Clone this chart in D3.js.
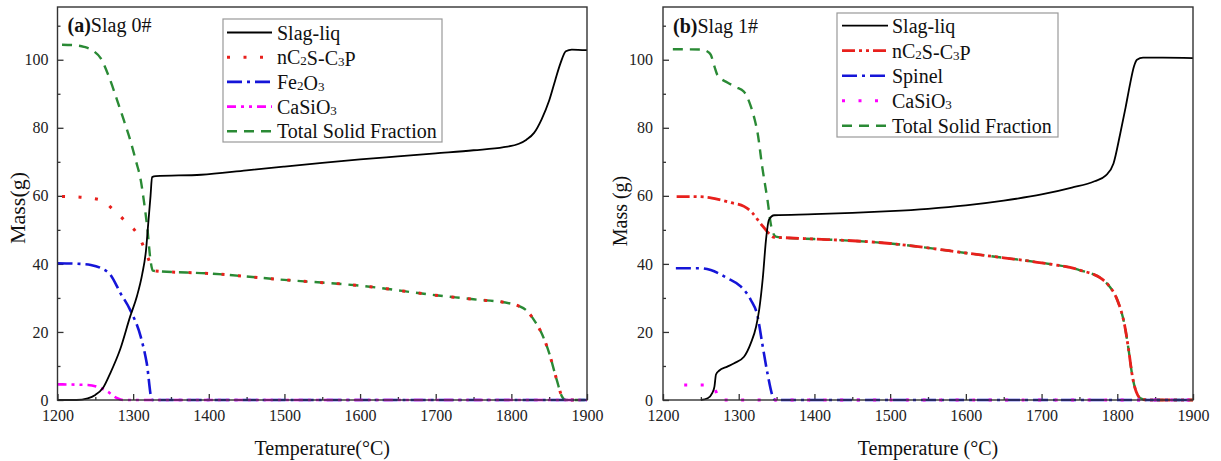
<!DOCTYPE html>
<html>
<head>
<meta charset="utf-8">
<script src="https://cdnjs.cloudflare.com/ajax/libs/d3/7.8.5/d3.min.js"></script>
<style>
  html, body { margin: 0; padding: 0; background: #fff; }
  svg, svg text { font-family: "Liberation Serif", "Times New Roman", serif; }
</style>
</head>
<body>
<div id="chart"></div>
<script>
// ---- datos: [temperatura °C, masa g] ----

// (a) Slag 0#
const liq0 = [[1200,0],[1225,0],[1240,0.5],[1250,1.5],[1260,3.5],[1270,8],[1283,15],[1296,24.5],[1305,30.5],[1312,37],[1317,44],[1320,52],[1323,60],[1325,65.5],[1330,65.8],[1390,66.2],[1450,67.5],[1500,68.6],[1550,69.7],[1600,70.7],[1650,71.6],[1700,72.5],[1750,73.4],[1790,74.3],[1810,75.3],[1820,76.5],[1830,78.5],[1840,82.5],[1850,88],[1858,94],[1865,99],[1872,102.5],[1880,103],[1900,102.8]];
const c2s0 = [[1206,59.8],[1230,59.6],[1257,58.8],[1274,55.9],[1292,52],[1305,49],[1314,45],[1321,41],[1326,38],[1330,37.9],[1400,37.2],[1500,35.3],[1600,33.6],[1700,30.8],[1750,29.6],[1800,28.3],[1810,27.6],[1820,26.3],[1830,23.5],[1840,19.6],[1850,13.8],[1860,5.9],[1867,1],[1872,0],[1900,0]];
const fe2o3_0 = [[1200,40.2],[1230,40],[1244,39.7],[1257,38.8],[1270,36.8],[1283,31.5],[1296,26.5],[1310,18.6],[1318,10.8],[1325,0],[1900,0]];
const casio0 = [[1200,4.6],[1240,4.4],[1257,3.5],[1266,2.5],[1279,0.5],[1287,0],[1900,0]];
const solid0 = [[1206,104.4],[1220,104.3],[1235,103.8],[1248,102.5],[1257,100.5],[1268,95],[1279,88],[1288,82],[1296,76.5],[1304,70],[1310,64.7],[1314,58.8],[1319,50],[1323,41],[1326,38],[1330,37.9],[1400,37.2],[1500,35.3],[1600,33.6],[1700,30.8],[1750,29.6],[1800,28.3],[1810,27.6],[1820,26.3],[1830,23.5],[1840,19.6],[1850,13.8],[1860,5.9],[1867,1],[1872,0],[1900,0]];

// (b) Slag 1#
const liq1 = [[1250,0],[1259,0.5],[1265,2],[1268,4],[1270,7.5],[1274,8.6],[1285,9.8],[1294,10.8],[1307,12.7],[1316,16.7],[1323,21.6],[1327,26.5],[1332,36.3],[1336,47],[1340,53],[1347,54.3],[1400,54.6],[1450,55],[1500,55.5],[1550,56.2],[1600,57.2],[1650,58.6],[1700,60.4],[1740,62.4],[1770,64.3],[1785,66],[1795,69.5],[1804,78.4],[1811,86],[1817,93],[1822,98],[1826,100],[1834,100.6],[1860,100.6],[1900,100.5]];
const c2s1 = [[1218,59.8],[1240,59.8],[1258,59.6],[1276,58.8],[1290,58],[1307,56.9],[1318,55],[1325,53],[1332,51],[1338,49.4],[1347,47.8],[1360,47.7],[1400,47.3],[1450,46.8],[1500,46],[1550,44.7],[1600,43.2],[1650,41.8],[1700,40.3],[1750,38.2],[1780,35.5],[1790,33.3],[1800,29.4],[1810,21.6],[1815,14.7],[1820,6.9],[1825,2.4],[1830,0.6],[1840,0],[1900,0]];
const spinel1 = [[1217,38.7],[1250,38.7],[1263,38.2],[1285,35.8],[1303,33.3],[1316,29.4],[1325,24.5],[1331,16.7],[1338,7.8],[1345,1],[1348,0],[1900,0]];
const casio1 = [[1228,4.4],[1255,4.4],[1265,3.8],[1270,2.5],[1273,0],[1900,0]];
const solid1 = [[1213,103.1],[1250,103],[1258,102.5],[1263,101.5],[1268,98],[1272,95.5],[1285,93.3],[1296,92],[1307,90.6],[1316,86.3],[1321,82.5],[1325,78.4],[1331,68.6],[1338,58.8],[1343,51],[1349,48],[1360,47.7],[1400,47.3],[1450,46.8],[1500,46],[1550,44.7],[1600,43.2],[1650,41.8],[1700,40.3],[1750,38.2],[1780,35.5],[1790,33.3],[1800,29.4],[1810,21.6],[1815,14.7],[1820,6.9],[1825,2.4],[1830,0.6],[1840,0],[1900,0]];

// ejes
const xTicks = [1200, 1300, 1400, 1500, 1600, 1700, 1800, 1900];
const xMinor = [1250, 1350, 1450, 1550, 1650, 1750, 1850];
const yTicks = [0, 20, 40, 60, 80, 100];
const yMinor = [10, 30, 50, 70, 90, 110];

// Dimensiones
const width = 1221;
const height = 461;
const serif = "'Liberation Serif', 'Times New Roman', serif";

const svg = d3.select("#chart").append("svg")
    .attr("width", width)
    .attr("height", height);

// colores
const cBlack = "#000", cRed = "#e8201c", cBlue = "#1515d8", cMag = "#ff00ff", cGreen = "#2a8a35";

function drawPanel(p) {
    const x = d3.scaleLinear().domain([1200, 1900]).range([p.left, p.right]);
    const y = d3.scaleLinear().domain([0, 115.5]).range([400, 7]);
    const g = svg.append("g");

    // ticks menores y mayores, hacia dentro
    g.append("g").attr("transform", "translate(0,400)")
        .call(d3.axisBottom(x).tickValues(xTicks).tickSize(-6).tickPadding(10).tickFormat(d3.format("d")))
        .call(a => a.select(".domain").remove());
    g.append("g").attr("transform", "translate(0,400)")
        .call(d3.axisBottom(x).tickValues(xMinor).tickSize(-3).tickFormat(""))
        .call(a => a.select(".domain").remove());
    g.append("g").attr("transform", `translate(${p.left},0)`)
        .call(d3.axisLeft(y).tickValues(yTicks).tickSize(-6).tickPadding(p.yPad))
        .call(a => a.select(".domain").remove());
    g.append("g").attr("transform", `translate(${p.left},0)`)
        .call(d3.axisLeft(y).tickValues(yMinor).tickSize(-3).tickFormat(""))
        .call(a => a.select(".domain").remove());
    g.selectAll(".tick line").attr("stroke", "#333").attr("stroke-width", 1.3);
    g.selectAll(".tick text")
        .style("font-family", serif)
        .style("font-size", "16px").attr("fill", "#222");

    // curvas
    const line = d3.line().x(d => x(d[0])).y(d => y(d[1])).curve(d3.curveMonotoneX);
    p.series.forEach(s => {
        g.append("path")
            .datum(s.data)
            .attr("d", line)
            .attr("fill", "none")
            .attr("stroke", s.color)
            .attr("stroke-width", s.width)
            .attr("stroke-dasharray", s.dash)
            .attr("stroke-linejoin", "round");
    });

    // marco
    g.append("rect")
        .attr("x", p.left).attr("y", 7)
        .attr("width", p.right - p.left).attr("height", 393)
        .attr("fill", "none").attr("stroke", "#333").attr("stroke-width", 1.4);

    // etiqueta del panel
    const lab = g.append("text").attr("x", p.left + 10).attr("y", p.labelY)
        .style("font-family", serif).attr("font-size", 20).attr("fill", "#111");
    lab.append("tspan").attr("font-weight", "bold").text(p.tag);
    lab.append("tspan").text(p.name);

    // títulos de ejes
    g.append("text")
        .attr("x", (p.left + p.right) / 2).attr("y", 455)
        .style("font-family", serif)
        .attr("text-anchor", "middle").attr("font-size", 20).attr("fill", "#111")
        .text(p.xTitle);
    g.append("text")
        .attr("transform", `translate(${p.yTitleX},${p.yTitleY}) rotate(-90)`)
        .style("font-family", serif)
        .attr("text-anchor", "middle").attr("font-size", p.yTitleSize).attr("fill", "#111")
        .text(p.yTitle);

    // leyenda
    const lg = p.legend;
    g.append("rect")
        .attr("x", lg.x0).attr("y", lg.y0)
        .attr("width", lg.x1 - lg.x0).attr("height", lg.y1 - lg.y0)
        .attr("fill", "#fff").attr("stroke", "#999").attr("stroke-width", 1.2);
    p.series.slice().sort((a, b) => a.order - b.order).forEach((s, i) => {
        const cy = lg.firstRow + i * lg.step;
        g.append("line")
            .attr("x1", lg.lineX0).attr("x2", lg.lineX1)
            .attr("y1", cy).attr("y2", cy)
            .attr("stroke", s.color).attr("stroke-width", s.width)
            .attr("stroke-dasharray", s.dash);
        const t = g.append("text").attr("x", lg.textX).attr("y", cy + 7)
            .style("font-family", serif)
            .attr("font-size", 20).attr("fill", "#111");
        // subíndices marcados con "_"
        s.label.split(/(_\d)/).filter(d => d !== "").forEach(part => {
            if (part[0] === "_") {
                t.append("tspan").attr("font-size", 13).attr("dy", 1).text(part[1]);
                t.append("tspan").attr("dy", -1).text("");
            } else {
                t.append("tspan").text(part);
            }
        });
    });
}

drawPanel({
    left: 57.5, right: 587, yPad: 9, labelY: 32,
    tag: "(a)", name: "Slag 0#",
    xTitle: "Temperature(\u00B0C)", yTitle: "Mass(g)",
    yTitleX: 25, yTitleY: 208, yTitleSize: 22,
    legend: { x0: 223, x1: 442, y0: 19, y1: 142, firstRow: 32.5, step: 24.7, lineX0: 227, lineX1: 272, textX: 277 },
    series: [
        { label: "Total Solid Fraction", data: solid0, color: cGreen, width: 2.4, dash: "10,7", order: 4 },
        { label: "nC_2S-C_3P", data: c2s0, color: cRed, width: 3, dash: "3,13.5", order: 1 },
        { label: "Fe_2O_3", data: fe2o3_0, color: cBlue, width: 2.6, dash: "15,5,3,5", order: 2 },
        { label: "CaSiO_3", data: casio0, color: cMag, width: 2.6, dash: "9,5,3,5,3,5", order: 3 },
        { label: "Slag-liq", data: liq0, color: cBlack, width: 1.8, dash: null, order: 0 }
    ]
});

drawPanel({
    left: 663, right: 1193, yPad: 10, labelY: 33,
    tag: "(b)", name: "Slag 1#",
    xTitle: "Temperature (\u00B0C)", yTitle: "Mass (g)",
    yTitleX: 627, yTitleY: 211, yTitleSize: 20,
    legend: { x0: 837, x1: 1058, y0: 13, y1: 137, firstRow: 25.7, step: 25, lineX0: 842, lineX1: 888, textX: 892 },
    series: [
        { label: "Total Solid Fraction", data: solid1, color: cGreen, width: 2.4, dash: "10,7", order: 4 },
        { label: "nC_2S-C_3P", data: c2s1, color: cRed, width: 2.8, dash: "13,4,3,4,3,4", order: 1 },
        { label: "Spinel", data: spinel1, color: cBlue, width: 2.6, dash: "15,5,3,5", order: 2 },
        { label: "CaSiO_3", data: casio1, color: cMag, width: 3, dash: "3,13.5", order: 3 },
        { label: "Slag-liq", data: liq1, color: cBlack, width: 1.8, dash: null, order: 0 }
    ]
});
</script>
</body>
</html>
